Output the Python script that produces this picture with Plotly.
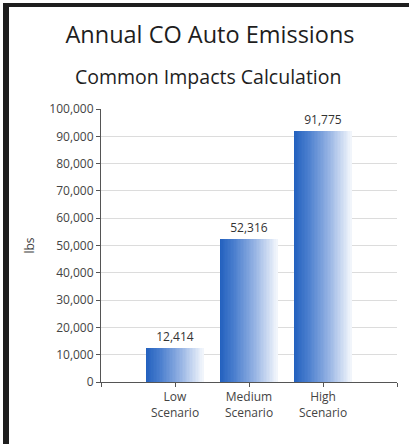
import plotly.graph_objects as go

# Chart data
categories = ["Low<br>Scenario", "Medium<br>Scenario", "High<br>Scenario"]
emissions_lbs = [12414, 52316, 91775]
y_ticks = [0, 10000, 20000, 30000, 40000, 50000, 60000, 70000, 80000, 90000, 100000]

# Page geometry (pixels)
W, H = 409, 444
ML, MR, MT, MB = 101, 12, 109, 62
PW, PH = W - ML - MR, H - MT - MB

FONT = "Open Sans, Liberation Sans, Arial, sans-serif"


def px_x(px):
    return (px - ML) / PW


def px_y(py):
    return (H - MB - py) / PH


x_pos = list(range(1, len(categories) + 1))
bar_w = 0.78

# horizontal blue-to-white gradient for the bars
grad_stops = [(0.0, (34, 96, 190)), (0.25, (74, 126, 206)), (0.6, (148, 178, 227)), (1.0, (244, 247, 252))]


def grad_color(t):
    for (t0, c0), (t1, c1) in zip(grad_stops[:-1], grad_stops[1:]):
        if t0 <= t <= t1:
            f = (t - t0) / (t1 - t0)
            r, g, b = (round(a + (b_ - a) * f) for a, b_ in zip(c0, c1))
            return f"rgb({r},{g},{b})"
    return "rgb(244,247,252)"


fig = go.Figure()
n_slices = 40
sw = bar_w / n_slices
for i in range(n_slices):
    fig.add_trace(go.Bar(
        x=x_pos, y=emissions_lbs,
        width=[sw * 1.05] * len(x_pos),
        offset=[-bar_w / 2 + i * sw] * len(x_pos),
        marker=dict(color=grad_color((i + 0.5) / n_slices), line=dict(width=0)),
        hoverinfo="skip", showlegend=False,
    ))

# value labels above the bars
fig.add_trace(go.Bar(
    x=x_pos, y=emissions_lbs, width=[bar_w] * len(x_pos),
    marker=dict(color="rgba(0,0,0,0)", line=dict(width=0)),
    texttemplate="%{y:,}", textposition="outside",
    textfont=dict(family=FONT, size=12, color="#333333"),
    cliponaxis=False, showlegend=False,
))

axis_font = dict(family=FONT, size=12, color="#444444")

fig.update_layout(
    width=W, height=H,
    margin=dict(l=ML, r=MR, t=MT, b=MB, pad=0),
    paper_bgcolor="white", plot_bgcolor="white",
    barmode="overlay", bargap=0,
    title=dict(
        text="Annual CO Auto Emissions",
        font=dict(family=FONT, size=23.5, color="#1e1e1e"),
        xref="container", yref="container", x=210 / W, y=1 - 35 / H,
        xanchor="center", yanchor="middle",
    ),
    annotations=[dict(
        text="Common Impacts Calculation",
        font=dict(family=FONT, size=19.5, color="#1e1e1e"),
        xref="paper", yref="paper", x=px_x(208), y=px_y(76),
        xanchor="center", yanchor="middle", showarrow=False,
    )],
    xaxis=dict(
        range=[0, len(categories) + 1],
        tickmode="array",
        tickvals=[0] + x_pos + [len(categories) + 1],
        ticktext=[""] + categories + [""],
        ticks="outside", ticklen=4, tickcolor="#555555", tickwidth=1,
        showline=True, linecolor="#555555", linewidth=1,
        showgrid=False, zeroline=False,
        tickfont=axis_font, fixedrange=True,
    ),
    yaxis=dict(
        range=[0, 100000],
        tickmode="array", tickvals=y_ticks,
        ticktext=[f"{v:,}" for v in y_ticks],
        ticks="outside", ticklen=4, tickcolor="#555555", tickwidth=1,
        showline=True, linecolor="#555555", linewidth=1,
        showgrid=True, gridcolor="#dcdcdc", gridwidth=1,
        zeroline=False, tickfont=axis_font,
        title=dict(text="lbs", font=axis_font, standoff=12),
        fixedrange=True,
    ),
    shapes=[
        # dark frame along the top and left edges
        dict(type="rect", xref="paper", yref="paper",
             x0=px_x(3), x1=px_x(W), y0=px_y(7), y1=px_y(3),
             fillcolor="#1e1e1e", line=dict(width=0), layer="above"),
        dict(type="rect", xref="paper", yref="paper",
             x0=px_x(3), x1=px_x(9), y0=px_y(H), y1=px_y(3),
             fillcolor="#1e1e1e", line=dict(width=0), layer="above"),
    ],
)

fig.write_html("out.html", config={"displayModeBar": False})
